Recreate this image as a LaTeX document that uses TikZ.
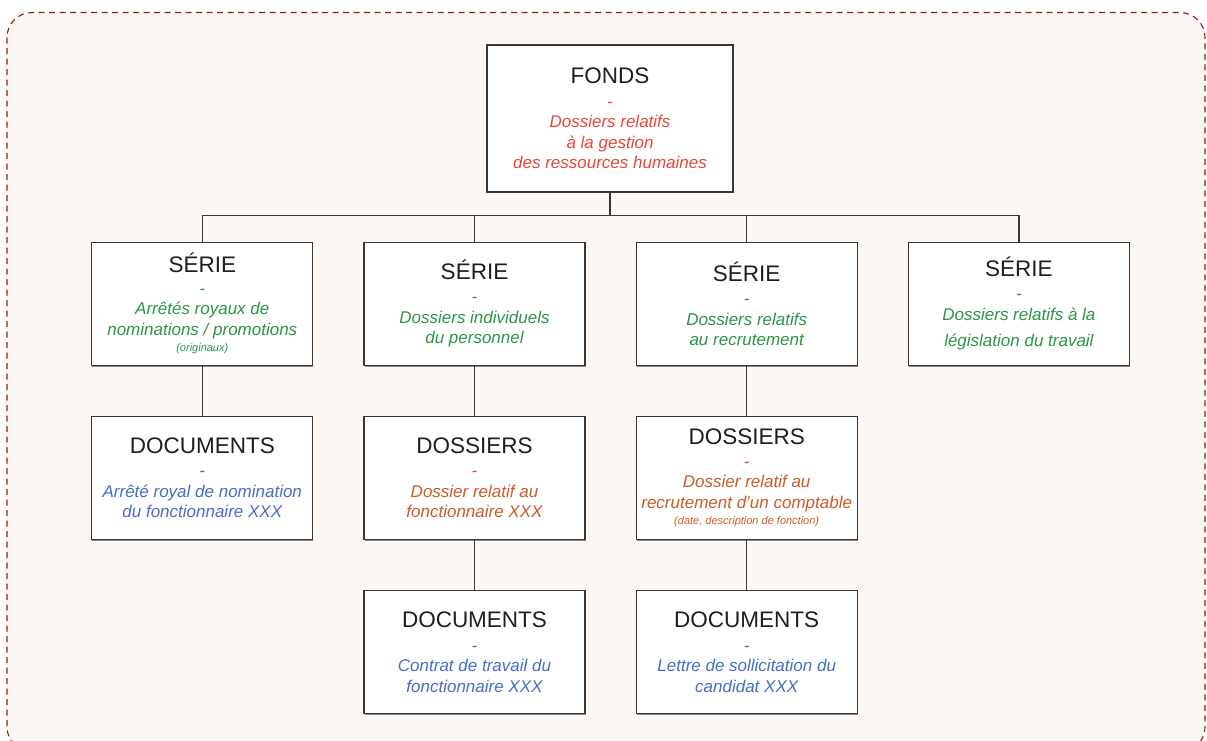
\documentclass[tikz,border=0pt]{standalone}
\usepackage{fontspec}
\setmainfont{Liberation Sans}
\usetikzlibrary{positioning, shadows}

\definecolor{boxline}{RGB}{55,55,55}
\definecolor{titlegray}{RGB}{30,30,30}
\definecolor{fondsred}{RGB}{232,70,55}
\definecolor{seriegreen}{RGB}{45,150,70}
\definecolor{dossorange}{RGB}{205,90,40}
\definecolor{docblue}{RGB}{70,110,200}
\definecolor{pagefill}{RGB}{252,247,243}
\definecolor{pageline}{RGB}{150,25,20}

\newcommand{\boxtitle}[1]{{\upshape\color{titlegray}\fontsize{22.5}{25}\selectfont #1}}
\newcommand{\boxnote}[1]{{\fontsize{11}{12}\selectfont #1}}

\begin{document}
\begin{tikzpicture}[x=1pt, y=-1pt, node distance=50pt,
 box/.style={draw=boxline, fill=white, line width=1.2pt, minimum width=221pt,
  minimum height=123pt, align=center, inner sep=1pt,
  font=\fontsize{17}{20.5}\selectfont\itshape,
  drop shadow={shadow xshift=0.6pt, shadow yshift=-1.4pt, fill=black, opacity=.45}},
 link/.style={draw=boxline, line width=1.2pt}]

  \useasboundingbox (0,0) rectangle (1207,740);
  \draw[pageline, fill=pagefill, line width=1.1pt, dash pattern=on 6pt off 4.5pt,
   rounded corners=25pt] (7,12.5) rectangle (1205,752);

  \node[box, text=fondsred, minimum width=246pt, minimum height=147pt] (fonds) at (610,118.5)
   {\boxtitle{FONDS}\\[3pt] -\\ Dossiers relatifs\\ à la gestion\\ des ressources humaines};

  \node[box, text=seriegreen, below=49pt of fonds, xshift=-135.5pt] (s2)
   {\boxtitle{SÉRIE}\\[3pt] -\\ Dossiers individuels\\ du personnel};
  \node[box, text=seriegreen, left=of s2] (s1)
   {\boxtitle{SÉRIE}\\[1pt] -\\ Arrêtés royaux de\\ nominations / promotions\\[-4pt] \boxnote{(originaux)}};
  \node[box, text=seriegreen, right=of s2] (s3)
   {\boxtitle{SÉRIE}\\[3pt] -\\ Dossiers relatifs\\ au recrutement};
  \node[box, text=seriegreen, right=of s3] (s4)
   {\boxtitle{SÉRIE}\\[3pt] -\\ Dossiers relatifs à la\\[6pt] législation du travail};

  \node[box, text=docblue, below=of s1] (d1)
   {\boxtitle{DOCUMENTS}\\[3pt] -\\ Arrêté royal de nomination\\ du fonctionnaire XXX};
  \node[box, text=dossorange, below=of s2] (d2)
   {\boxtitle{DOSSIERS}\\[3pt] -\\ Dossier relatif au\\ fonctionnaire XXX};
  \node[box, text=dossorange, below=of s3] (d3)
   {\boxtitle{DOSSIERS}\\[2pt] -\\ Dossier relatif au\\ recrutement d'un comptable\\[-4pt] \boxnote{(date, description de fonction)}};

  \node[box, text=docblue, below=of d2] (d4)
   {\boxtitle{DOCUMENTS}\\[3pt] -\\ Contrat de travail du\\ fonctionnaire XXX};
  \node[box, text=docblue, below=of d3] (d5)
   {\boxtitle{DOCUMENTS}\\[3pt] -\\ Lettre de sollicitation du\\ candidat XXX};

  \foreach \s in {s1, s2, s3, s4} {
   \draw[link] (fonds.south) -- ++(0,23) -| (\s.north);}
  \foreach \s/\t in {s1/d1, s2/d2, s3/d3, d2/d4, d3/d5} {
   \draw[link] (\s.south) -- (\t.north);}
\end{tikzpicture}
\end{document}
